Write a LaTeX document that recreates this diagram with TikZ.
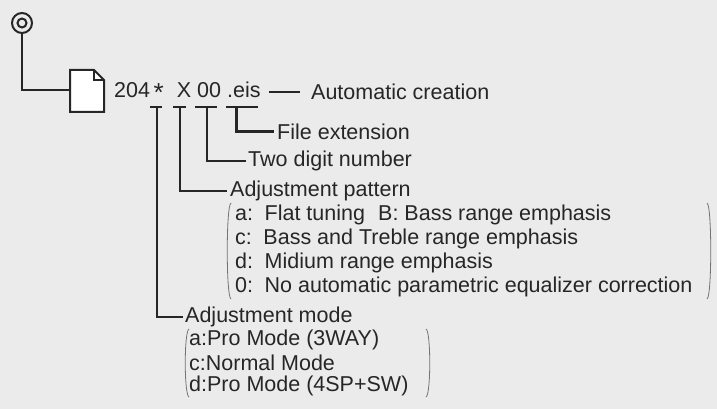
\documentclass[tikz,border=0pt]{standalone}
\usepackage{fontspec}
\setmainfont{Liberation Sans}
\usepackage{tikz}

\begin{document}
\begin{tikzpicture}[x=1pt,y=-1pt,
	lbl/.style={anchor=west,inner sep=0pt,font=\fontsize{21.5}{23}\selectfont,text=black!85},
	lead/.style={line width=2.2pt,black!85},
	paren/.style={line width=0.8pt,black!55}]
	\fill[black!8] (0,0) rectangle (717,409);
	\useasboundingbox (0,0) rectangle (717,409);
	
	% disc and file
	\draw[black!85,line width=2pt] (22,23) circle (10);
	\draw[black!85,line width=2pt] (22,23) circle (4.5);
	\draw[lead,line width=2pt] (22,33) -- (22,90) -- (70,90);
	\draw[black!85,line width=2pt,fill=white] (70,70) -- (94,70) -- (104,80) -- (104,112) -- (70,112) -- cycle;
	\draw[black!85,line width=1.5pt] (94,70) -- (94,80) -- (104,80);
	
	\node[lbl] (name) at (114,92) {204\,{\fontsize{26}{26}\selectfont\raisebox{-0.3ex}{*}}\,\, X 00 .eis};
	\coordinate (dash) at (269,92);
	\draw[lead,line width=1.5pt] (dash) -- ++(31,0);
	\node[lbl] (auto) at (311,92) {Automatic creation};
	
	% ticks under the parts
	\draw[lead] (150,107) -- (162,107);
	\draw[lead] (173,107) -- (186,107);
	\draw[lead] (195,107) -- (217,107);
	\draw[lead] (226,107) -- (258,107);
	
	\node[lbl] (ext) at (277,132) {File extension};
	\node[lbl] (num) at (248,161) {Two digit number};
	\node[lbl] (pat) at (230,191) {Adjustment pattern};
	\node[lbl] (mode) at (185,317) {Adjustment mode};
	
	\draw[lead,line width=3pt] (236,107) |- ([xshift=-3pt]ext.west);
	\draw[lead,line width=1.6pt] (207,107) |- ([xshift=-2pt]num.west);
	\draw[lead,line width=2pt] (180,107) |- ([xshift=-3pt]pat.west);
	\draw[lead,line width=2.6pt] (157,107) |- ([xshift=-2pt]mode.west);
	
	% pattern list
	\foreach \y/\t in {215/{a:\, Flat tuning\,\, B: Bass range emphasis},
		239/{c:\, Bass and Treble range emphasis},
		263/{d:\, Midium range emphasis},
		287/{0:\, No automatic parametric equalizer correction}}
		\node[lbl] at (235,\y) {\t};
	\draw[paren] (231,203) .. controls (226,205) and (226,297) .. (231,299);
	\draw[paren] (707,203) .. controls (712,205) and (712,297) .. (707,299);
	
	% mode list
	\foreach \y/\t in {340/{a:Pro Mode (3WAY)},363/{c:Normal Mode},386/{d:Pro Mode (4SP+SW)}}
		\node[lbl] at (189,\y) {\t};
	\draw[paren] (189,329) .. controls (184,331) and (184,395) .. (189,397);
	\draw[paren] (426,329) .. controls (431,331) and (431,395) .. (426,397);
\end{tikzpicture}
\end{document}
